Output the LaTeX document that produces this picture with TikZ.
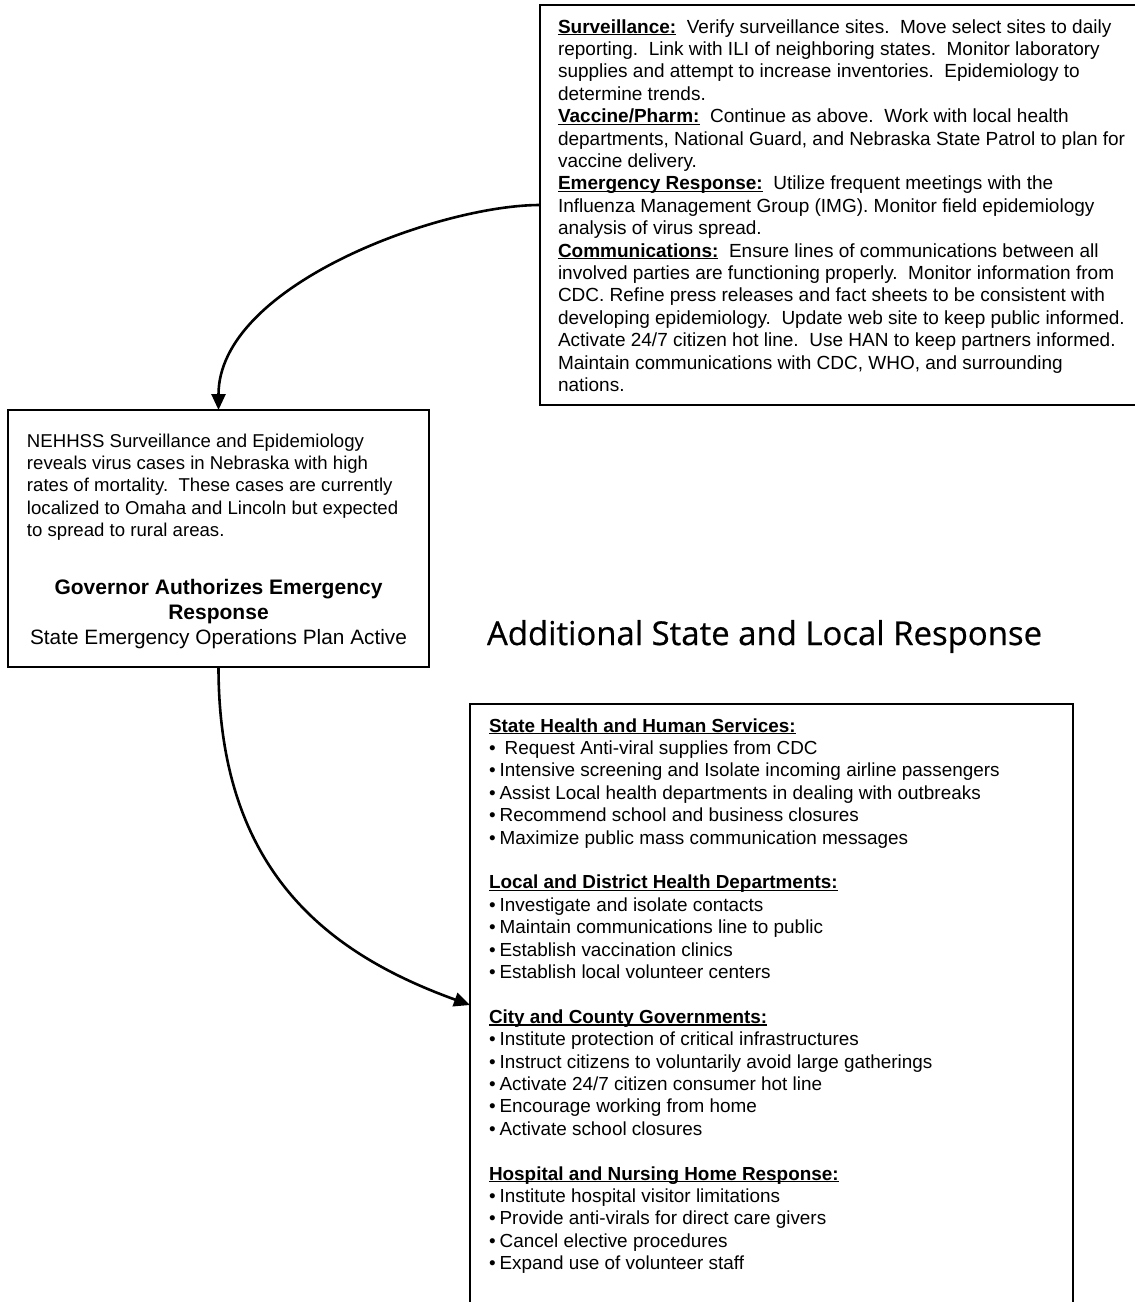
\documentclass[tikz,border=0pt]{standalone}
\usepackage{fontspec}
\usepackage{graphicx}
\setmainfont{Liberation Sans}
\newfontfamily\titlefont[FakeBold=0.6]{Open Sans}
\usetikzlibrary{arrows.meta}
\newcommand\myul[1]{\leavevmode\setbox0=\hbox{#1}\rlap{\rule[-2.4pt]{\wd0}{1.4pt}}\box0}
\newcommand\bul{\textbullet\hspace{4pt}}
\tikzset{
  boxnode/.style={draw, line width=2pt, rectangle, inner sep=0pt, outer sep=0pt},
  conn/.style={line width=2.6pt, -{Triangle[length=16pt,width=14pt]}},
  txt/.style={anchor=base west, inner sep=0pt, outer sep=0pt},
}
\begin{document}
\begin{tikzpicture}[x=1pt,y=-1pt]
\useasboundingbox (0,0) rectangle (1135,1302);
\clip (0,0) rectangle (1135,1302);
\fill[white] (0,0) rectangle (1135,1302);

% boxes
\node[boxnode, minimum width=600pt, minimum height=400pt] (topbox) at (840,205) {};
\node[boxnode, minimum width=421pt, minimum height=257pt] (leftbox) at (218.5,538.5) {};
\node[boxnode, minimum width=603pt, minimum height=616pt] (botbox) at (771.5,1012) {};

% top box text
\node[txt] (toptext) at (558,33) {\parbox[t]{575pt}{\fontsize{19}{22.4}\selectfont\raggedright
\myul{\textbf{Surveillance:}}\ \ Verify surveillance sites.\ \ Move select sites to daily\\
reporting.\ \ Link with ILI of neighboring states.\ \ Monitor laboratory\\
supplies and attempt to increase inventories.\ \ Epidemiology to\\
determine trends.\\
\myul{\textbf{Vaccine/Pharm:}}\ \ Continue as above.\ \ Work with local health\\
departments, National Guard, and Nebraska State Patrol to plan for\\
vaccine delivery.\\
\myul{\textbf{Emergency Response:}}\ \ Utilize frequent meetings with the\\
Influenza Management Group (IMG). Monitor field epidemiology\\
analysis of virus spread.\\
\myul{\textbf{Communications:}}\ \ Ensure lines of communications between all\\
involved parties are functioning properly.\ \ Monitor information from\\
CDC. Refine press releases and fact sheets to be consistent with\\
developing epidemiology.\ \ Update web site to keep public informed.\\
Activate 24/7 citizen hot line.\ \ Use HAN to keep partners informed.\\
Maintain communications with CDC, WHO, and surrounding\\
nations.}};

% left box text
\node[txt] (lefttext) at (27,447) {\parbox[t]{400pt}{\fontsize{18.6}{22.4}\selectfont\raggedright
NEHHSS Surveillance and Epidemiology\\
reveals virus cases in Nebraska with high\\
rates of mortality.\ \ These cases are currently\\
localized to Omaha and Lincoln but expected\\
to spread to rural areas.}};
\node[anchor=base, inner sep=0pt] (gov1) at (218.5,594) {\fontsize{21}{24}\selectfont\bfseries Governor Authorizes Emergency};
\node[anchor=base, inner sep=0pt] (gov2) at (218.5,619) {\fontsize{21}{24}\selectfont\bfseries Response};
\node[anchor=base, inner sep=0pt] (gov3) at (218.5,644) {\fontsize{20.8}{24}\selectfont State Emergency Operations Plan Active};

% title
\node[txt] (title) at (487,645) {\resizebox{555pt}{!}{\titlefont Additional State and Local Response}};

% bottom box text
\node[txt] (bottext) at (489,732) {\parbox[t]{575pt}{\fontsize{18.9}{22.4}\selectfont\raggedright
\myul{\textbf{State Health and Human Services:}}\\
\textbullet\hspace{9pt}Request Anti-viral supplies from CDC\\
\bul Intensive screening and Isolate incoming airline passengers\\
\bul Assist Local health departments in dealing with outbreaks\\
\bul Recommend school and business closures\\
\bul Maximize public mass communication messages\\[22.4pt]
\myul{\textbf{Local and District Health Departments:}}\\
\bul Investigate and isolate contacts\\
\bul Maintain communications line to public\\
\bul Establish vaccination clinics\\
\bul Establish local volunteer centers\\[22.4pt]
\myul{\textbf{City and County Governments:}}\\
\bul Institute protection of critical infrastructures\\
\bul Instruct citizens to voluntarily avoid large gatherings\\
\bul Activate 24/7 citizen consumer hot line\\
\bul Encourage working from home\\
\bul Activate school closures\\[22.4pt]
\myul{\textbf{Hospital and Nursing Home Response:}}\\
\bul Institute hospital visitor limitations\\
\bul Provide anti-virals for direct care givers\\
\bul Cancel elective procedures\\
\bul Expand use of volunteer staff}};

% connectors
\draw[conn] (topbox.west) .. controls +(-100,0) and +(0,-125) .. (leftbox.north);
\draw[conn] (leftbox.south) .. controls +(0,205) and +(-141,-51) .. ([yshift=7pt]botbox.west);
\end{tikzpicture}
\end{document}
